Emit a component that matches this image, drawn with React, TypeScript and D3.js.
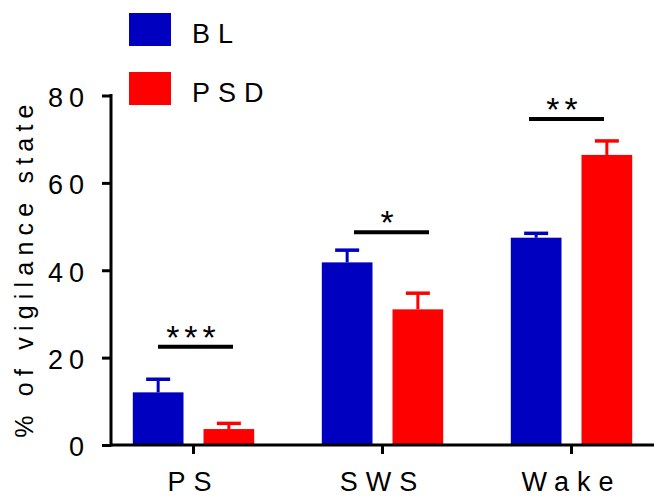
import React, { useEffect, useRef } from 'react';
import * as d3 from 'd3';

// values
const categories = ['PS', 'SWS', 'Wake'];
const groups = ['BL', 'PSD'];
const blMeans = [12.05, 41.8, 47.45];
const blErr = [3.0, 2.8, 1.0];
const psdMeans = [3.65, 31.05, 66.4];
const psdErr = [1.3, 3.7, 3.2];
const sigLabels = ['***', '*', '**'];
const sigLevels = [22.5, 48.7, 74.6];
const yTicks = [0, 20, 40, 60, 80];

const colors = { BL: '#0000c0', PSD: '#ff0000' };
const FONT = 'Arial, "Liberation Sans", sans-serif';

const width = 654;
const height = 496;

const App = () => {
    const svgRef = useRef<SVGSVGElement>(null);

    const yScale = d3.scaleLinear().domain([0, 80]).range([445, 95.5]);
    const xScale = d3.scaleBand().domain(categories).range([99, 666]);
    const inner = d3.scaleBand().domain(groups).range([-60.7, 60.7]).paddingInner(0.283);
    const center = (c) => xScale(c) + xScale.bandwidth() / 2;

    const rows = categories.flatMap((c, i) => [
        { cat: c, group: 'BL', mean: blMeans[i], err: blErr[i] },
        { cat: c, group: 'PSD', mean: psdMeans[i], err: psdErr[i] },
    ]);
    // small horizontal nudges of the significance lines, as in the figure
    const sigShift = [2, 9, -5];

    useEffect(() => {
        const svg = d3.select(svgRef.current);

        const yAxis = d3.axisLeft(yScale).tickValues(yTicks).tickSize(9).tickPadding(12);
        const gy = svg.select('.y-axis').attr('transform', 'translate(111,0)').call(yAxis);
        gy.select('.domain').remove();
        gy.selectAll('line').attr('stroke', '#000').attr('stroke-width', 3);
        gy.selectAll('text')
            .attr('font-size', 27)
            .attr('font-family', FONT)
            .attr('letter-spacing', 6)
            .attr('dy', '0.4em')
            .attr('fill', '#000');

        const xAxis = d3.axisBottom(xScale).tickSize(9).tickPadding(17);
        const gx = svg.select('.x-axis').attr('transform', 'translate(0,445)').call(xAxis);
        gx.select('.domain').remove();
        gx.selectAll('line').attr('stroke', '#000').attr('stroke-width', 3);
        gx.selectAll('text')
            .attr('font-size', 27)
            .attr('font-family', FONT)
            .attr('letter-spacing', 8)
            .attr('dy', '0.74em')
            .attr('fill', '#000');
    }, []);

    return (
        <svg ref={svgRef} width={width} height={height}
            style={{ position: 'absolute', left: 0, top: 0, background: '#fff' }}>
            {/* bars */}
            {rows.map((d) => {
                const x = center(d.cat) + inner(d.group);
                const cx = x + inner.bandwidth() / 2;
                const col = colors[d.group];
                return (
                    <g key={d.cat + d.group}>
                        <rect x={x} y={yScale(d.mean)} width={inner.bandwidth()}
                            height={yScale(0) - yScale(d.mean)} fill={col} />
                        <line x1={cx} x2={cx} y1={yScale(d.mean)} y2={yScale(d.mean + d.err)}
                            stroke={col} strokeWidth={3} />
                        <line x1={cx - 12} x2={cx + 12} y1={yScale(d.mean + d.err)} y2={yScale(d.mean + d.err)}
                            stroke={col} strokeWidth={3.5} />
                    </g>
                );
            })}

            {/* significance */}
            {categories.map((c, i) => {
                const cx = center(c) + sigShift[i];
                const y = yScale(sigLevels[i]);
                return (
                    <g key={'sig' + c}>
                        <line x1={cx - 37.5} x2={cx + 37.5} y1={y} y2={y} stroke="#000" strokeWidth={4} />
                        <text x={cx - 2} y={y + 2} textAnchor="middle" fontFamily={FONT}
                            fontSize={34} letterSpacing={5} fill="#000">{sigLabels[i]}</text>
                    </g>
                );
            })}

            {/* axes */}
            <g className="y-axis" />
            <g className="x-axis" />
            <line x1={111} x2={111} y1={yScale(80) - 1.5} y2={yScale(0) + 1.5} stroke="#000" strokeWidth={3} />
            <line x1={111} x2={654} y1={yScale(0)} y2={yScale(0)} stroke="#000" strokeWidth={3} />

            <text transform={`translate(33,${268}) rotate(-90)`} textAnchor="middle"
                fontFamily={FONT} fontSize={25} letterSpacing={6.2} fill="#000">% of vigilance state</text>

            {/* legend */}
            {groups.map((g, i) => (
                <g key={'leg' + g}>
                    <rect x={129} y={13 + i * 59} width={42} height={33} fill={colors[g]} />
                    <text x={192} y={43 + i * 59} fontFamily={FONT} fontSize={27}
                        letterSpacing={8} fill="#000">{g}</text>
                </g>
            ))}
        </svg>
    );
};

export default App;
